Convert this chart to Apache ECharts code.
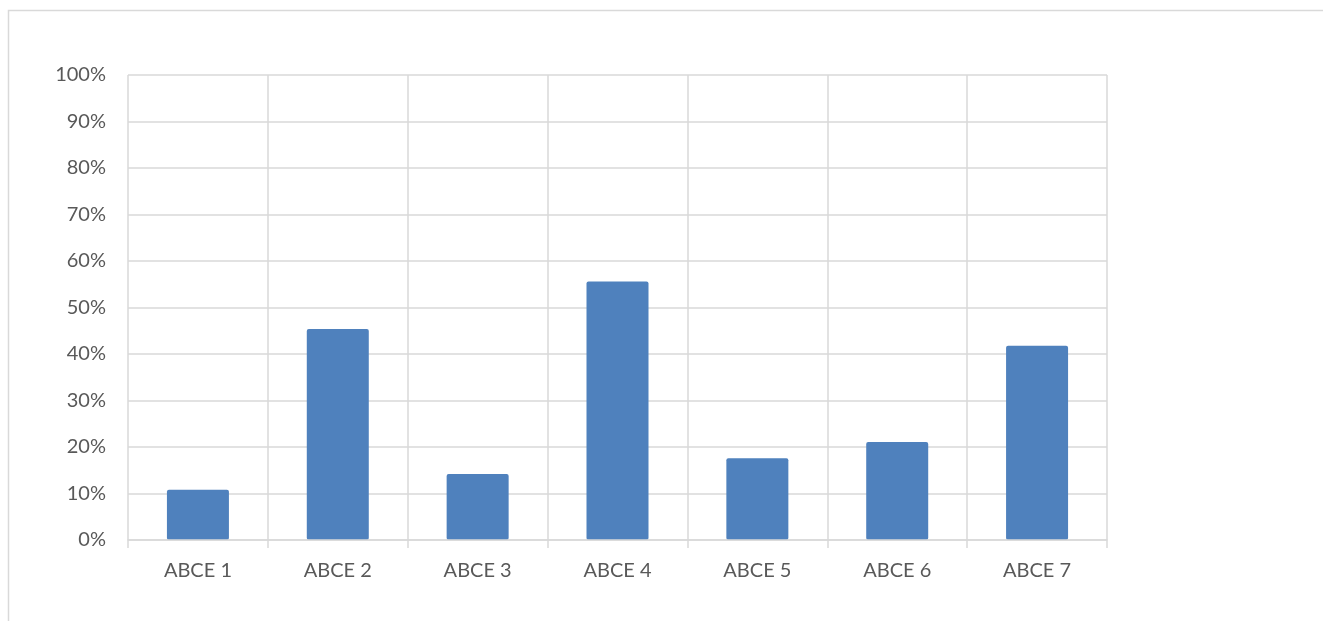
<!DOCTYPE html>
<html>
<head>
<meta charset="utf-8">
<script src="https://cdn.jsdelivr.net/npm/echarts@6/dist/echarts.min.js"></script>
<style>
  html, body { margin: 0; padding: 0; background: #fff; }
  #chart { width: 1323px; height: 621px; }
</style>
</head>
<body>
<div id="chart"></div>
<script>
// 类别与数值（百分比）
const categories = ['ABCE 1', 'ABCE 2', 'ABCE 3', 'ABCE 4', 'ABCE 5', 'ABCE 6', 'ABCE 7'];
const values = [10.8, 45.4, 14.2, 55.6, 17.6, 21.1, 41.8];
const yTicks = [0, 10, 20, 30, 40, 50, 60, 70, 80, 90, 100];

const chart = echarts.init(document.getElementById('chart'));

const option = {
    animation: false,
    backgroundColor: '#fff',
    textStyle: { fontFamily: 'Lato' },
    graphic: [{
        type: 'rect',
        shape: { x: 8.5, y: 10.5, width: 1400, height: 700 },
        style: { fill: 'none', stroke: '#d9d9d9', lineWidth: 1.5 },
        silent: true
    }],
    grid: {
        left: 128,
        right: 216,
        top: 75,
        bottom: 81
    },
    xAxis: {
        type: 'category',
        data: categories,
        boundaryGap: true,
        axisLine: { show: true, lineStyle: { color: '#d9d9d9', width: 1.5 } },
        axisTick: { show: true, length: 8, lineStyle: { color: '#d9d9d9', width: 1.5 } },
        splitLine: { show: true, lineStyle: { color: '#d9d9d9', width: 1.5 } },
        axisLabel: { color: '#595959', fontSize: 20, margin: 21 },
        z: 10
    },
    yAxis: {
        type: 'value',
        min: 0,
        max: 100,
        interval: 10,
        axisLine: { show: false },
        axisTick: { show: false },
        splitLine: { show: true, lineStyle: { color: '#d9d9d9', width: 1.5 } },
        axisLabel: {
            color: '#595959',
            fontSize: 20,
            margin: 22,
            formatter: function (v) { return yTicks.indexOf(v) >= 0 ? v + '%' : ''; }
        }
    },
    series: [{
        name: 'values',
        type: 'bar',
        data: values,
        barWidth: 62,
        itemStyle: { color: '#4F81BD', borderRadius: 2 }
    }]
};

chart.setOption(option);
</script>
</body>
</html>
